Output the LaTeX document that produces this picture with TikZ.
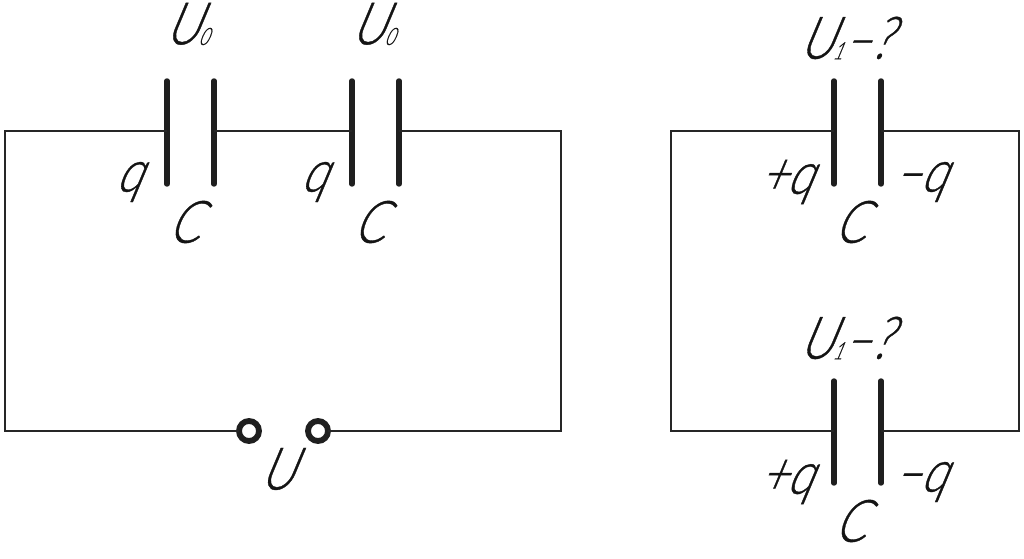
\documentclass[tikz,border=0pt]{standalone}
\usepackage{fontspec}
\newfontfamily\gost[FakeSlant=0.42,FakeStretch=0.8,FakeBold=0.6]{Lato Light}
\newfontfamily\gostsub[FakeSlant=0.42,FakeStretch=0.7,FakeBold=0.5]{Lato Light}
\newcommand{\subs}[1]{{\gostsub\fontsize{18}{18}\selectfont\raisebox{-0.5pt}{#1}}}
\tikzset{
  wire/.style={line width=1pt,draw=black!85},
  plate/.style={line width=4.1pt,draw=black!88,line cap=round},
  term/.style={circle,draw=black!88,fill=white,line width=4.4pt,minimum size=15pt,inner sep=0pt,outer sep=0pt},
  lab/.style={inner sep=0pt,font=\gost\fontsize{44}{44}\selectfont,text=black!92},
}
\begin{document}
\begin{tikzpicture}[x=0.75pt,y=-0.75pt]
\useasboundingbox (0,0) rectangle (1024,559);
% corners
\coordinate (la) at (5,131); \coordinate (lb) at (5,431);
\coordinate (ra) at (561,131); \coordinate (rb) at (561,431);
\coordinate (ca) at (671,131); \coordinate (cb) at (671,431);
\coordinate (da) at (1019,131); \coordinate (db) at (1019,431);
% plates
\foreach \n/\x/\t/\b in {a1/167/81/184,a2/214/81/184,b1/352/81/184,b2/399/81/184,c1/834/81/184,c2/881/81/184,d1/834/381/483,d2/881/381/483}{
  \coordinate (\n t) at (\x,\t); \coordinate (\n b) at (\x,\b);
  \draw[plate] (\n t) -- (\n b);
}
\coordinate (a1m) at (167,131); \coordinate (a2m) at (214,131);
\coordinate (b1m) at (352,131); \coordinate (b2m) at (399,131);
\coordinate (c1m) at (834,131); \coordinate (c2m) at (881,131);
\coordinate (d1m) at (834,431); \coordinate (d2m) at (881,431);
% terminals
\node[term] (t1) at (249,431) {};
\node[term] (t2) at (318,431) {};
% wires
\draw[wire] (a1m) -- (la) -- (lb) -- (t1);
\draw[wire] (a2m) -- (b1m);
\draw[wire] (b2m) -- (ra) -- (rb) -- (t2);
\draw[wire] (c1m) -- (ca) -- (cb) -- (d1m);
\draw[wire] (c2m) -- (da) -- (db) -- (d2m);
% labels
\node[lab] (u1) at (186,24) {U\subs{0}};
\node[lab] (u2) at (372,24) {U\subs{0}};
\node[lab] (q1) at (128,182) {q};
\node[lab] (q2) at (313,182) {q};
\node[lab] (c1) at (183,222) {C};
\node[lab] (c2) at (368,222) {C};
\node[lab] (u) at (276,469) {U};
\node[lab] (u3) at (844,38) {U\subs{1}–?};
\node[lab] (u4) at (844,338) {U\subs{1}–?};
\node[lab] (pq1) at (785,182) {+q};
\node[lab] (mq1) at (919,182) {–q};
\node[lab] (c3) at (849,222) {C};
\node[lab] (pq2) at (785,482) {+q};
\node[lab] (mq2) at (919,482) {–q};
\node[lab] (c4) at (849,521) {C};
\end{tikzpicture}
\end{document}
